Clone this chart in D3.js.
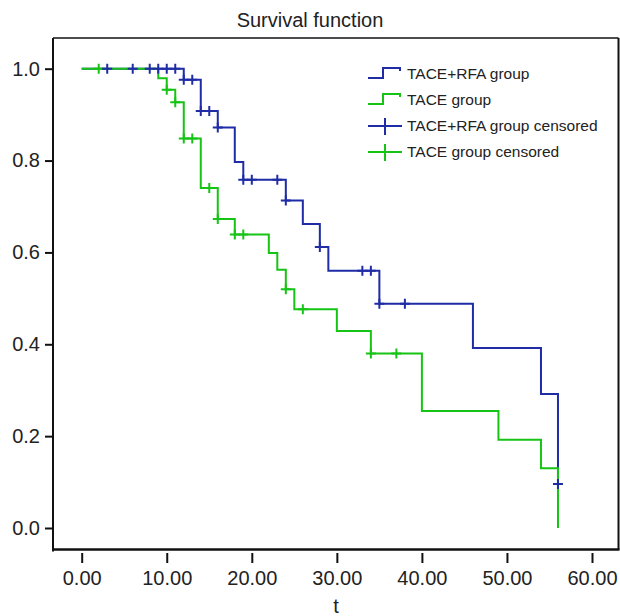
<!DOCTYPE html>
<html lang="en">
<head>
    <meta charset="UTF-8">
    <title>Survival function</title>
    <script src="https://d3js.org/d3.v7.min.js"></script>
    <style>
        body { margin: 0; background: #fff; }
        text { font-family: "Liberation Sans", Arial, Helvetica, sans-serif; fill: #222; }
    </style>
</head>
<body>
    <svg id="km-chart"></svg>
    <script>
        // step points (time, survival)
        var rfaTimes = [0, 12, 14, 16, 18, 19, 24, 26, 28, 29, 35, 46, 54, 56];
        var rfaSurv  = [1.0, 0.976, 0.908, 0.872, 0.797, 0.758, 0.713, 0.662, 0.612, 0.560, 0.488, 0.392, 0.292, 0.096];
        var rfaCensored = [3, 6, 8, 9, 10, 11, 12, 13, 14, 15, 16, 19, 20, 23, 24, 28, 33, 34, 35, 38, 56];

        var taceTimes = [0, 9, 10, 11, 12, 14, 16, 18, 22, 23, 24, 25, 30, 34, 40, 49, 54, 56];
        var taceSurv  = [1.0, 0.979, 0.954, 0.927, 0.848, 0.740, 0.673, 0.639, 0.599, 0.562, 0.520, 0.476, 0.429, 0.380, 0.255, 0.192, 0.130, 0.0];
        var taceCensored = [2, 10, 11, 12, 13, 15, 16, 18, 19, 24, 26, 34, 37];

        var xTicks = [0, 10, 20, 30, 40, 50, 60];
        var yTicks = [0, 0.2, 0.4, 0.6, 0.8, 1.0];
        var legendLabels = ["TACE+RFA group", "TACE group", "TACE+RFA group censored", "TACE group censored"];

        var blue = "#1f2ca6", green = "#16c416";
        var width = 620, height = 616;
        var box = { left: 53, top: 38, right: 618.5, bottom: 549.5 };

        var svg = d3.select("#km-chart")
                    .attr("width", width)
                    .attr("height", height);

        var xScale = d3.scaleLinear().domain([0, 60]).range([81.7, 592]);
        var yScale = d3.scaleLinear().domain([0, 1]).range([528, 68.7]);

        function toPoints(times, surv) {
            return times.map(function(t, i) { return { t: t, s: surv[i] }; });
        }
        function survAt(times, surv, t) {
            var s = surv[0];
            times.forEach(function(tt, i) { if (tt <= t) s = surv[i]; });
            return s;
        }

        var line = d3.line()
                     .curve(d3.curveStepAfter)
                     .x(function(d) { return xScale(d.t); })
                     .y(function(d) { return yScale(d.s); });

        svg.append("path")
           .datum(toPoints(rfaTimes, rfaSurv))
           .attr("fill", "none")
           .attr("stroke", blue)
           .attr("stroke-width", 2)
           .attr("d", line);

        svg.append("path")
           .datum(toPoints(taceTimes, taceSurv))
           .attr("fill", "none")
           .attr("stroke", green)
           .attr("stroke-width", 2)
           .attr("d", line);

        // censor marks ("+" shaped)
        function drawCensored(times, surv, cens, color) {
            svg.append("g").selectAll("path")
               .data(cens)
               .join("path")
               .attr("d", function(d) {
                   var x = xScale(d), y = yScale(survAt(times, surv, d));
                   return "M" + x + "," + (y - 5) + "V" + (y + 5) + "M" + (x - 5) + "," + y + "H" + (x + 5);
               })
               .attr("fill", "none")
               .attr("stroke", color)
               .attr("stroke-width", 2);
        }
        drawCensored(taceTimes, taceSurv, taceCensored, green);
        drawCensored(rfaTimes, rfaSurv, rfaCensored, blue);

        // frame
        svg.append("line").attr("x1", box.left).attr("x2", box.right).attr("y1", box.top).attr("y2", box.top)
           .attr("stroke", "#111").attr("stroke-width", 1.5);
        svg.append("line").attr("x1", box.right).attr("x2", box.right).attr("y1", box.top).attr("y2", box.bottom)
           .attr("stroke", "#111").attr("stroke-width", 2);
        svg.append("line").attr("x1", box.left).attr("x2", box.left).attr("y1", box.top).attr("y2", box.bottom + 2)
           .attr("stroke", "#111").attr("stroke-width", 2);
        svg.append("line").attr("x1", box.left).attr("x2", box.right + 1).attr("y1", box.bottom).attr("y2", box.bottom)
           .attr("stroke", "#111").attr("stroke-width", 2.5);

        // axes
        var yAxis = svg.append("g")
           .attr("transform", "translate(" + box.left + ",0)")
           .call(d3.axisLeft(yScale).tickValues(yTicks).tickSize(8).tickPadding(5).tickFormat(d3.format(".1f")));
        var xAxis = svg.append("g")
           .attr("transform", "translate(0,553)")
           .call(d3.axisBottom(xScale).tickValues(xTicks).tickSize(10).tickPadding(8).tickFormat(d3.format(".2f")));

        [xAxis, yAxis].forEach(function(ax) {
            ax.select(".domain").remove();
            ax.selectAll(".tick line").attr("stroke", "#111").attr("stroke-width", 2);
            ax.selectAll(".tick text").attr("font-size", "20px").attr("fill", "#222")
              .attr("font-family", "'Liberation Sans', Arial, sans-serif");
        });

        svg.append("text")
           .attr("x", 310)
           .attr("y", 27)
           .attr("text-anchor", "middle")
           .attr("font-size", "20px")
           .text("Survival function");

        svg.append("text")
           .attr("x", 336)
           .attr("y", 613)
           .attr("text-anchor", "middle")
           .attr("font-size", "20px")
           .text("t");

        // legend
        var legend = svg.append("g").attr("transform", "translate(368,74)");
        var rowGap = 26;
        var legendColors = [blue, green, blue, green];

        legendLabels.forEach(function(label, i) {
            var y = i * rowGap;
            if (i < 2) {
                legend.append("path")
                      .attr("d", "M0," + (y + 4) + "H15V" + (y - 6) + "H32V" + (y - 3))
                      .attr("fill", "none")
                      .attr("stroke", legendColors[i])
                      .attr("stroke-width", 2);
            } else {
                legend.append("line")
                      .attr("x1", 0).attr("x2", 34).attr("y1", y).attr("y2", y)
                      .attr("stroke", legendColors[i]).attr("stroke-width", 2);
                legend.append("line")
                      .attr("x1", 17).attr("x2", 17).attr("y1", y - 8).attr("y2", y + 9)
                      .attr("stroke", legendColors[i]).attr("stroke-width", 2);
            }
            legend.append("text")
                  .attr("x", 39)
                  .attr("y", y)
                  .attr("dy", ".35em")
                  .attr("font-size", "15.5px")
                  .text(label);
        });
    </script>
</body>
</html>
